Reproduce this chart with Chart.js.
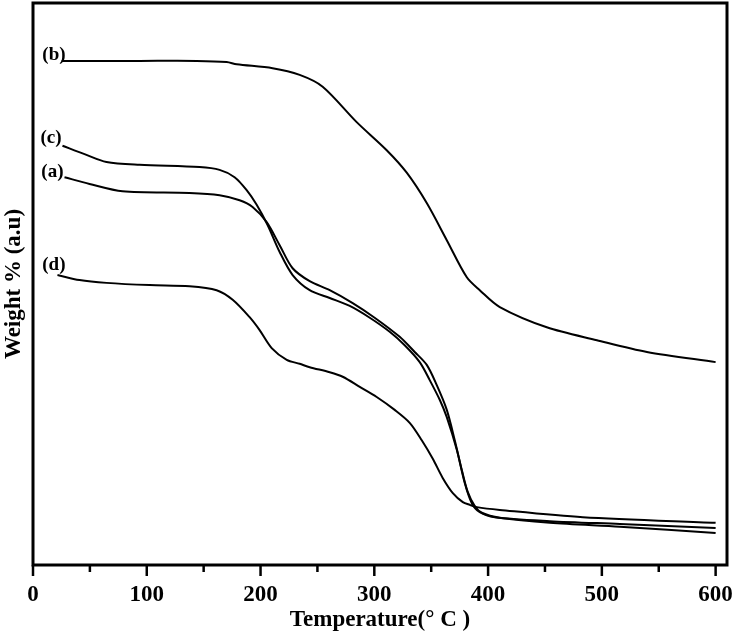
<!DOCTYPE html>
<html>
<head>
<meta charset="utf-8">
<script src="https://cdn.jsdelivr.net/npm/chart.js@4.4.1/dist/chart.umd.min.js"></script>
<style>
  html,body{margin:0;padding:0;background:#fff;}
  #wrap{width:734px;height:634px;position:relative;}
</style>
</head>
<body>
<div id="wrap"><canvas id="tga"></canvas></div>
<script>
// temperature (°C) / weight (a.u.)
const tempA = [27.7,49.7,78.7,137.6,164,181.6,193,205.4,216.8,228.2,243.2,260.8,281,300.3,322.3,335.5,346.1,354.9,363.7,370.7,376.9,382.1,388.3,394.5,410.3,454.3,515.8,600];
const weightA = [69,67.8,66.5,66.2,65.8,64.9,63.7,61,56.9,52.8,50.5,48.9,46.6,44,40.6,37.9,35.6,32,27.6,22.2,16.9,13,10.5,9.3,8.4,7.5,6.8,5.7];

const tempB = [25.1,93.7,143.8,170.2,179,210.6,234.4,254.6,284.5,310.9,328.5,346.1,363.7,381.3,392.7,410.3,451.6,495.6,539.6,600];
const weightB = [89.7,89.7,89.7,89.5,89.1,88.4,87.2,85.1,78.8,73.8,69.8,64.4,57.8,51.2,48.9,45.9,42.3,40,37.9,36.1];

const tempC = [25.9,45.3,64.6,93.7,146.4,164,177.2,187.8,196.6,206.2,216.8,228.2,243.2,260.8,278.4,296,313.5,326.7,339.9,348.7,357.5,363.7,372.5,379.5,385.7,392.7,405.9,454.3,515.8,600];
const weightC = [74.6,73.1,71.7,71.2,70.8,70.3,69,66.7,64.1,60.5,55.7,51.6,48.9,47.5,46.1,44,41.5,39.1,36.1,32.9,29.4,26.3,20.5,14.6,11,9.4,8.5,7.8,7.3,6.6];

const tempD = [21.5,40.9,64.6,102.5,137.6,161.4,175.5,190.4,199.2,209.8,223,234.4,243.2,260.8,272.2,287.2,302.1,317.9,331.1,341.7,351.4,360.1,369,377.8,383.9,390.1,410.3,483.3,600];
const weightD = [51.6,50.7,50.2,49.8,49.6,48.9,47.2,44.1,41.8,38.6,36.5,35.8,35.2,34.3,33.5,31.7,29.9,27.6,25.3,22.2,18.9,15.5,12.8,11.2,10.7,10.3,9.8,8.5,7.5];

const seriesNames = ['(a)','(b)','(c)','(d)'];
const xTicks = [0,50,100,150,200,250,300,350,400,450,500,550,600];

const FONT = '"Liberation Serif","Times New Roman",serif';

function pts(xs, ys){ return xs.map((x,i)=>({x:x, y:ys[i]})); }

function mkSet(name, xs, ys, dx, dy){
  return {label:name, data:pts(xs,ys), borderColor:'#000', borderWidth:2, pointRadius:0,
    fill:false, tension:0.3, labelDx:dx, labelDy:dy};
}

// frame, tick marks and the (a)..(d) tags
const decor = {
  id:'decor',
  afterDatasetsDraw(chart){
    const ctx = chart.ctx, a = chart.chartArea, xs = chart.scales.x;
    ctx.save();
    ctx.strokeStyle = '#000';
    ctx.lineWidth = 3;
    ctx.strokeRect(a.left, a.top, a.right - a.left, a.bottom - a.top);
    ctx.lineWidth = 2.5;
    xTicks.forEach(v=>{
      const px = xs.getPixelForValue(v);
      const len = v % 100 === 0 ? 11 : 7;
      ctx.beginPath(); ctx.moveTo(px, a.bottom); ctx.lineTo(px, a.bottom + len); ctx.stroke();
    });
    ctx.fillStyle = '#000';
    ctx.font = 'bold 19px ' + FONT;
    ctx.textAlign = 'right';
    ctx.textBaseline = 'middle';
    chart.data.datasets.forEach((ds,i)=>{
      const p = chart.getDatasetMeta(i).data[0];
      ctx.fillText(ds.label, p.x + ds.labelDx, p.y + ds.labelDy);
    });
    ctx.restore();
  }
};

new Chart(document.getElementById('tga'), {
  type:'line',
  data:{datasets:[
    mkSet(seriesNames[0], tempA, weightA, -1, -5),
    mkSet(seriesNames[1], tempB, weightB, 4, -6),
    mkSet(seriesNames[2], tempC, weightC, -1, -8),
    mkSet(seriesNames[3], tempD, weightD, 8, -10)
  ]},
  options:{
    responsive:true, maintainAspectRatio:false, animation:false,
    layout:{padding:{top:3, right:7, left:0, bottom:0}},
    plugins:{legend:{display:false}, tooltip:{enabled:false}},
    scales:{
      x:{type:'linear', min:0, max:610,
        grid:{display:false, drawTicks:false}, border:{display:false},
        ticks:{stepSize:50, includeBounds:false, padding:16, color:'#000', maxRotation:0, autoSkip:false,
          font:{family:FONT, size:23, weight:'bold'},
          callback:v=> v % 100 === 0 ? String(v) : ''},
        title:{display:true, text:'Temperature(° C )', color:'#000', padding:0,
          font:{family:FONT, size:23, weight:'bold'}},
        afterFit:s=>{ s.height = 69; s.paddingLeft = 0; s.paddingRight = 0; }
      },
      y:{min:0, max:100,
        grid:{display:false, drawTicks:false}, border:{display:false},
        ticks:{display:false},
        title:{display:true, text:'Weight % (a.u)', color:'#000', padding:0,
          font:{family:FONT, size:23, weight:'bold'}},
        afterFit:s=>{ s.width = 33; s.paddingTop = 0; s.paddingBottom = 0; }
      }
    }
  },
  plugins:[decor]
});
</script>
</body>
</html>
